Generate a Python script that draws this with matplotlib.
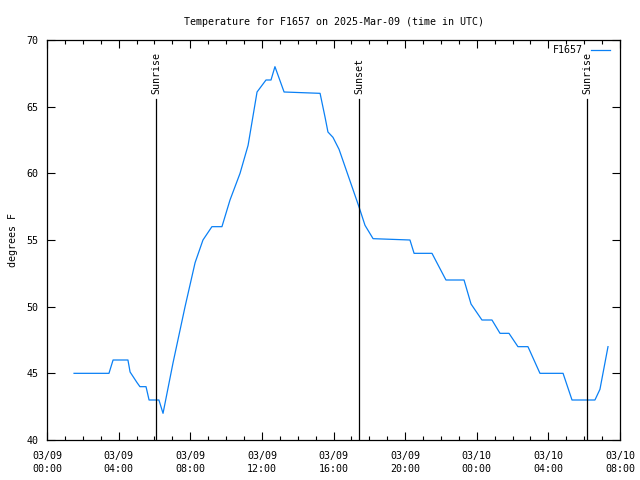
import numpy as np
import matplotlib
matplotlib.use('Agg')
import matplotlib.pyplot as plt
from matplotlib.ticker import MultipleLocator

# hours since 2025-03-09 00:00 UTC and temperature (F)
hours = [1.51, 3.46, 3.69, 4.52, 4.64, 5.03, 5.19, 5.53, 5.70, 6.25, 6.48,
         7.04, 7.71, 8.27, 8.71, 9.21, 9.77, 10.22, 10.78, 11.23, 11.73,
         12.23, 12.51, 12.73, 13.24, 15.25, 15.53, 15.69, 15.97, 16.31,
         17.42, 17.76, 18.21, 20.27, 20.50, 21.50, 22.28, 23.29, 23.68,
         24.29, 24.85, 25.30, 25.80, 26.30, 26.86, 27.53, 28.82, 29.32,
         30.60, 30.88, 31.33]
temps = [45, 45, 46, 46, 45.1, 44.3, 44, 44, 43, 43, 42,
         45.8, 50, 53.3, 55, 56, 56, 58, 60, 62.1, 66.1,
         67, 67, 68, 66.1, 66, 64.2, 63.1, 62.7, 61.8,
         57.5, 56.1, 55.1, 55, 54, 54, 52, 52, 50.2,
         49, 49, 48, 48, 47, 47, 45, 45, 43,
         43, 43.8, 47]

events = ['Sunrise', 'Sunset', 'Sunrise']
event_hours = [6.09, 17.42, 30.16]

tick_hours = [0, 4, 8, 12, 16, 20, 24, 28, 32]
tick_labels = ['03/09\n00:00', '03/09\n04:00', '03/09\n08:00', '03/09\n12:00',
               '03/09\n16:00', '03/09\n20:00', '03/10\n00:00', '03/10\n04:00',
               '03/10\n08:00']

plt.rcParams['font.family'] = 'DejaVu Sans Mono'
plt.rcParams['font.size'] = 7.2

fig = plt.figure(figsize=(6.4, 4.8), dpi=100)
ax = fig.add_axes([47/640, 40/480, 573/640, 400/480])

ax.plot(hours, temps, color='#0a80f5', lw=0.9)

for name, h in zip(events, event_hours):
    ax.plot([h, h], [40, 65.55], color='black', lw=0.9)
    ax.text(h, 65.95, name, rotation=90, ha='center', va='bottom')

ax.set_xlim(0, 32)
ax.set_ylim(40, 70)
ax.set_xticks(tick_hours)
ax.set_xticklabels(tick_labels, linespacing=1.35)
ax.xaxis.set_minor_locator(MultipleLocator(1))
ax.yaxis.set_major_locator(MultipleLocator(5))
ax.tick_params(which='both', direction='in', top=True, right=True, width=0.8)
ax.tick_params(which='major', length=6, pad=6)
ax.tick_params(axis='x', which='major', pad=8)
ax.tick_params(which='minor', length=3)
for s in ax.spines.values():
    s.set_linewidth(0.9)

# legend drawn by hand, gnuplot style
ax.text(0.935, 0.976, 'F1657', transform=ax.transAxes, ha='right', va='center')
ax.plot([0.95, 1.0 - 0.017], [0.976, 0.976], transform=ax.transAxes,
        color='#0a80f5', lw=0.9)

ax.set_ylabel('degrees F', labelpad=6)
ax.set_title('Temperature for F1657 on 2025-Mar-09 (time in UTC)',
             fontsize=7.2, pad=11)

fig.savefig('out.png', dpi=100)
